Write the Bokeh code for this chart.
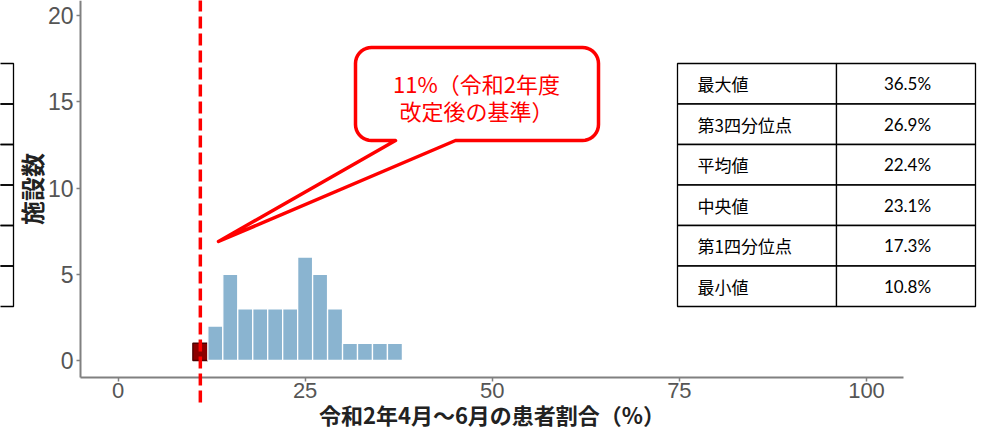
import numpy as np
from bokeh.plotting import figure
from bokeh.models import (Range1d, PolyAnnotation, BoxAnnotation, Label, Arrow,
                          FixedTicker, ColumnDataSource)
from bokeh.embed import file_html
from bokeh.resources import INLINE

# ---------------- data ----------------
bin_starts = [10, 12, 14, 16, 18, 20, 22, 24, 26, 28, 30, 32, 34, 36]
counts = [1, 2, 5, 3, 3, 3, 3, 6, 5, 3, 1, 1, 1, 1]
bin_width = 2
threshold = 11
x_ticks = [0, 25, 50, 75, 100]
y_ticks = [0, 5, 10, 15, 20]
stat_names = ["最大値", "第3四分位点", "平均値", "中央値", "第1四分位点", "最小値"]
stat_values = ["36.5%", "26.9%", "22.4%", "23.1%", "17.3%", "10.8%"]
callout_lines = ["11%（令和2年度", "改定後の基準）"]
x_title = "令和2年4月～6月の患者割合（%）"
y_title = "施設数"

# ---------------- layout ----------------
W, H = 977, 431
X_ZERO = 117.5       # canvas x of data x = 0
PXX = 7.485          # px per x unit
Y_ZERO = 360.0       # canvas y of data y = 0
PXY = 17.25          # px per y unit


def dx(X):
    """canvas pixel x -> data x"""
    return (X - X_ZERO) / PXX


def dy(Y):
    """canvas pixel y -> data y"""
    return (Y_ZERO - Y) / PXY


x_axis_loc = dy(376.5)        # y value where the x axis line sits
y_axis_loc = -5               # x value where the y axis line sits

p = figure(width=W, height=H,
           x_range=Range1d(dx(0), dx(W)),
           y_range=Range1d(dy(H), dy(0)),
           output_backend="svg", toolbar_location=None,
           min_border=0, min_border_left=0, min_border_right=0,
           min_border_top=0, min_border_bottom=0)
p.xgrid.visible = False
p.ygrid.visible = False
p.outline_line_color = None
p.background_fill_color = "white"
p.border_fill_color = "white"

RED_BIN = "#8B0000"
BLUE_BIN = "#8AB4D0"
lefts = list(bin_starts)
rights = [b + bin_width for b in bin_starts]
fills = [RED_BIN if b <= threshold < b + bin_width else BLUE_BIN for b in bin_starts]
edges = ["#4A0000" if b <= threshold < b + bin_width else "white" for b in bin_starts]
src = ColumnDataSource(dict(left=lefts, right=rights, top=counts,
                            bottom=[0] * len(counts), fill=fills, edge=edges))
p.quad(left="left", right="right", top="top", bottom="bottom", source=src,
       fill_color="fill", line_color="edge", line_width=1.3)

# axes (drawn at fixed locations inside the full-canvas frame)
AX_COL = "#808080"
for ax in (p.xaxis[0], p.yaxis[0]):
    ax.axis_line_color = AX_COL
    ax.axis_line_width = 2
    ax.major_tick_line_color = AX_COL
    ax.major_tick_line_width = 1.5
    ax.major_tick_out = 4
    ax.major_tick_in = 0
    ax.minor_tick_line_color = None
    ax.major_label_text_font = "Liberation Sans"
    ax.major_label_text_font_size = "23px"
    ax.major_label_text_color = "#555555"
    ax.axis_label_text_font = "Noto Sans CJK JP"
    ax.axis_label_text_font_style = "bold"
    ax.axis_label_text_color = "#222222"

p.xaxis.ticker = FixedTicker(ticks=x_ticks)
p.yaxis.ticker = FixedTicker(ticks=y_ticks)
p.xaxis.fixed_location = x_axis_loc
p.yaxis.fixed_location = y_axis_loc
p.xaxis.bounds = (-5, 105)
p.yaxis.bounds = (x_axis_loc, dy(0))
p.xaxis.axis_label = x_title
p.yaxis.axis_label = y_title
p.xaxis.major_label_text_font_size = "22px"
p.xaxis.axis_label_text_font_size = "22px"
p.yaxis.axis_label_text_font_size = "24px"
p.xaxis.major_label_standoff = 2
p.xaxis.axis_label_standoff = -4
p.yaxis.major_label_standoff = 3
p.yaxis.axis_label_standoff = -4

# threshold dashed line (extends a little below the axis)
p.add_layout(Arrow(x_start=threshold, y_start=dy(402), x_end=threshold, y_end=dy(-2),
                   start=None, end=None, line_color="#FF0000", line_width=3.5,
                   line_dash="12 5"))

# callout bubble
L, R, T, B, r = 355, 598, 47, 140, 16
path = []


def arc(cx, cy, a0, a1):
    for a in np.linspace(np.radians(a0), np.radians(a1), 10):
        path.append((cx + r * np.cos(a), cy + r * np.sin(a)))


arc(R - r, T + r, -90, 0)
arc(R - r, B - r, 0, 90)
path += [(455, B), (218, 241), (395, B)]
arc(L + r, B - r, 90, 180)
arc(L + r, T + r, 180, 270)
p.add_layout(PolyAnnotation(xs=[dx(a) for a, b in path], ys=[dy(b) for a, b in path],
                            fill_color="white", fill_alpha=1.0,
                            line_color="#FF0000", line_alpha=1.0, line_width=3.5,
                            line_join="round"))
for i, t in enumerate(callout_lines):
    p.add_layout(Label(x=dx(476), y=dy(82 + 27 * i), text=t, text_align="center",
                       text_baseline="middle", text_color="#FF0000",
                       text_font="Noto Sans CJK JP", text_font_size="22px"))

# statistics table (right)
row_h = 40.5
row_tops = [63 + row_h * i for i in range(len(stat_names))]
for i, (nm, vl) in enumerate(zip(stat_names, stat_values)):
    t0, t1 = row_tops[i], row_tops[i] + row_h
    for (a, b) in ((677, 836), (836, 975)):
        p.add_layout(BoxAnnotation(left=dx(a), right=dx(b), top=dy(t0), bottom=dy(t1),
                                   fill_color="white", fill_alpha=1.0,
                                   line_color="black", line_alpha=1.0, line_width=1.3))
    p.add_layout(Label(x=dx(697), y=dy((t0 + t1) / 2), text=nm, text_align="left",
                       text_baseline="middle", text_color="black",
                       text_font="Noto Sans CJK JP", text_font_size="17px"))
    p.add_layout(Label(x=dx(907), y=dy((t0 + t1) / 2), text=vl, text_align="center",
                       text_baseline="middle", text_color="black",
                       text_font="Lato", text_font_size="17px"))
    # cut-off table on the far left
    p.add_layout(BoxAnnotation(left=dx(-40), right=dx(13), top=dy(t0), bottom=dy(t1),
                               fill_alpha=0.0, line_color="black", line_alpha=1.0,
                               line_width=1.3))

open("out.html", "w").write(file_html(p, INLINE))
